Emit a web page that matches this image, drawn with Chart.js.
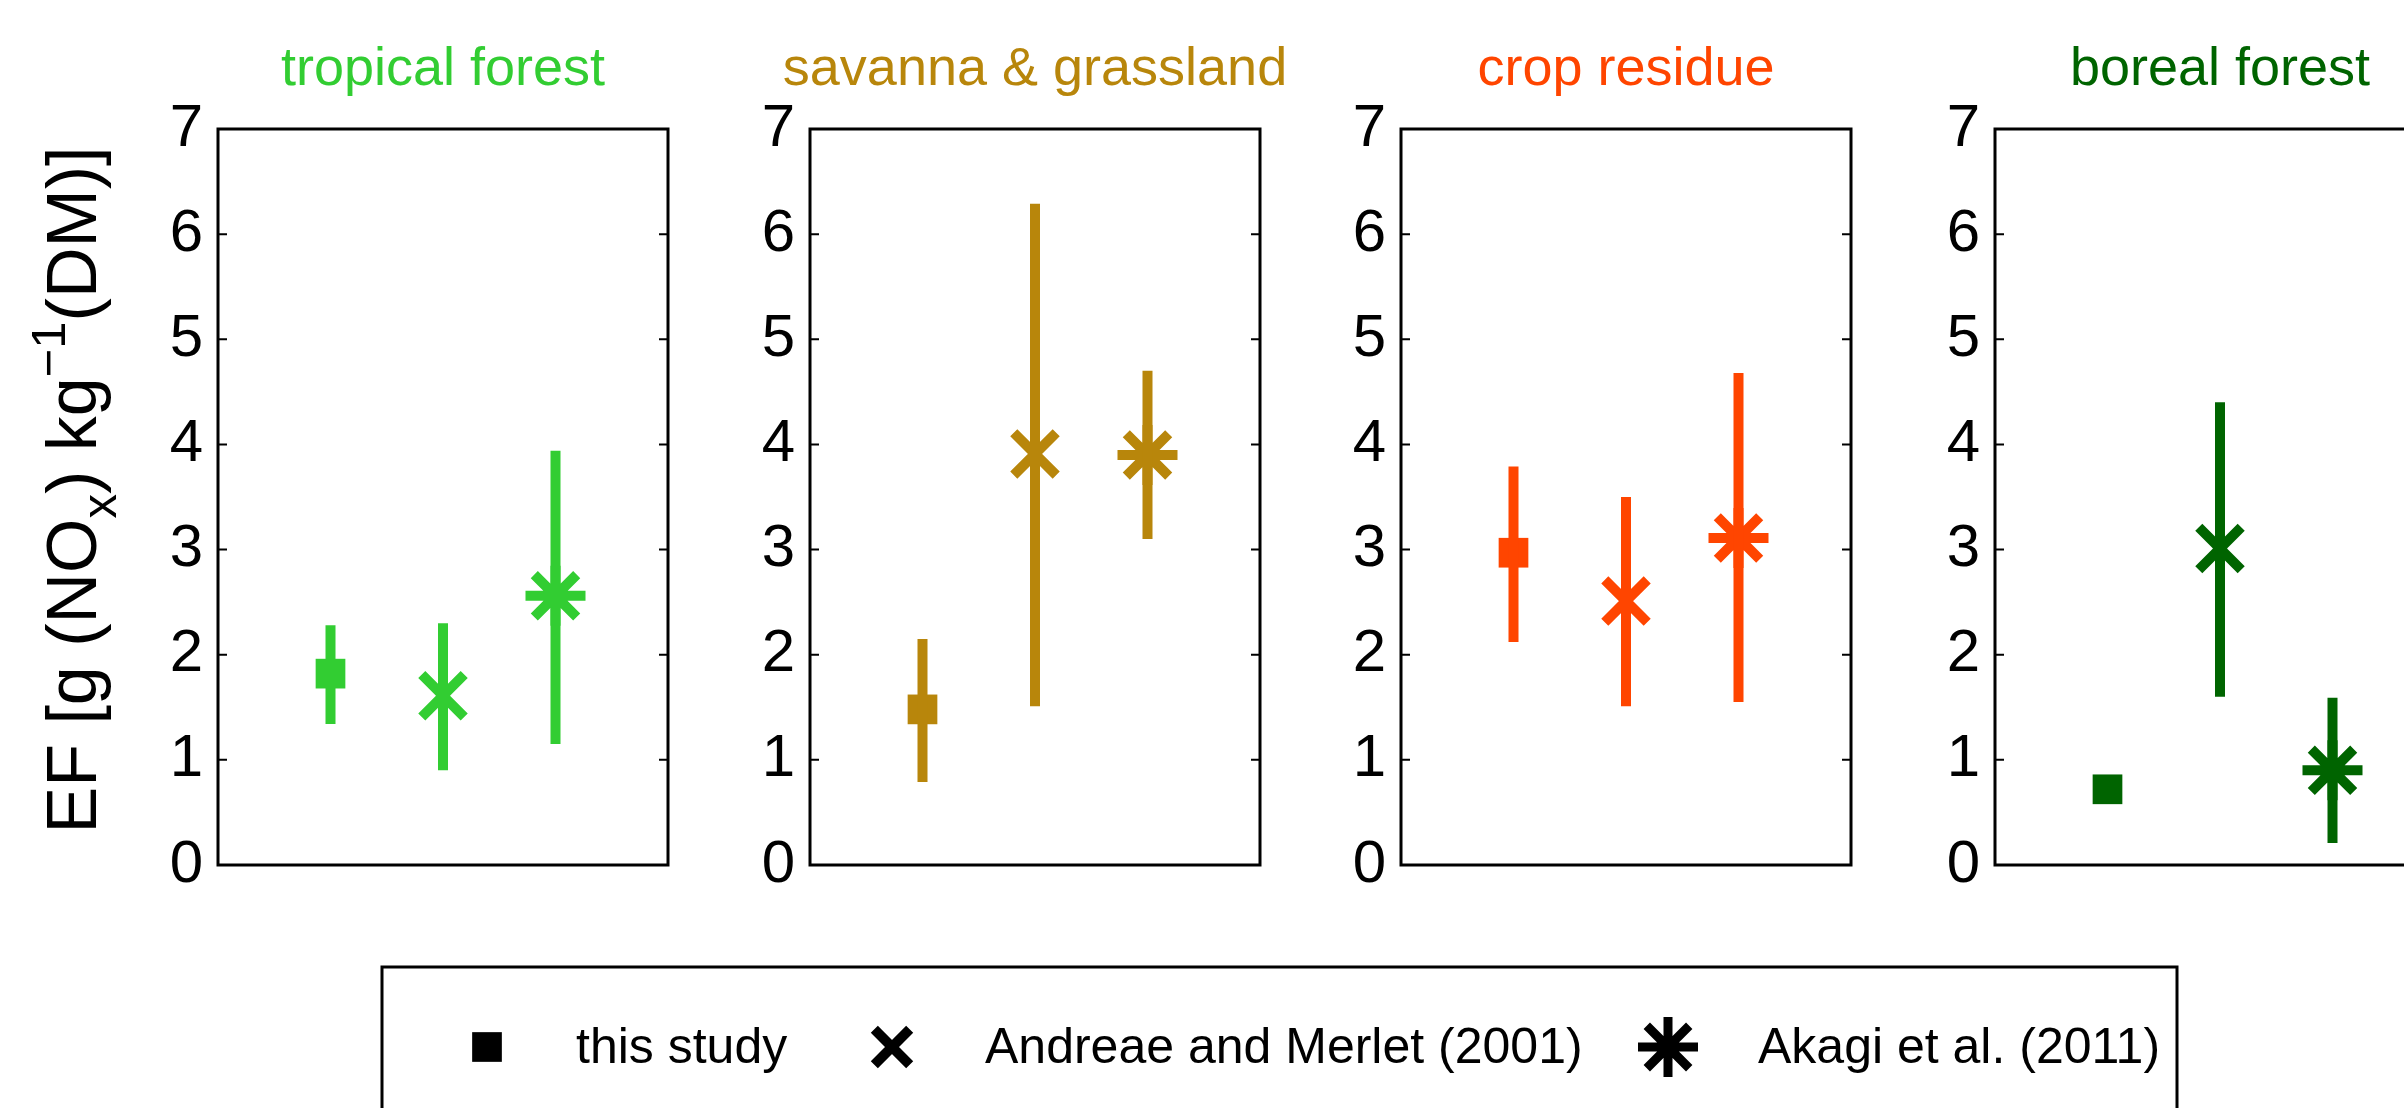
<!DOCTYPE html>
<html>
<head>
<meta charset="utf-8">
<script src="https://cdn.jsdelivr.net/npm/chart.js@4.4.1/dist/chart.umd.min.js"></script>
<style>
  html, body { margin: 0; padding: 0; background: #ffffff; width: 2404px; height: 1108px; overflow: hidden; }
  body { position: relative; }
  canvas { position: absolute; }
</style>
</head>
<body>
<canvas id="p0"></canvas>
<canvas id="p1"></canvas>
<canvas id="p2"></canvas>
<canvas id="p3"></canvas>
<canvas id="leg"></canvas>
<script>
// ---------------- data ----------------
const categories = ['tropical forest', 'savanna & grassland', 'crop residue', 'boreal forest'];
const categoryColors = ['#32CD32', '#B8860B', '#FF4500', '#006400'];
const sources = ['this study', 'Andreae and Merlet (2001)', 'Akagi et al. (2011)'];

const thisStudy     = [1.82, 1.48, 2.97, 0.72];
const thisStudyLow  = [1.34, 0.79, 2.12, null];
const thisStudyHigh = [2.28, 2.15, 3.79, null];

const andreae     = [1.61, 3.91, 2.51, 3.01];
const andreaeLow  = [0.90, 1.51, 1.51, 1.60];
const andreaeHigh = [2.30, 6.29, 3.50, 4.40];

const akagi     = [2.56, 3.90, 3.11, 0.90];
const akagiLow  = [1.15, 3.10, 1.55, 0.21];
const akagiHigh = [3.94, 4.70, 4.68, 1.59];

const sourceX = [1, 2, 3];
const yTicks = [0, 1, 2, 3, 4, 5, 6, 7];

// ---------------- layout ----------------
const FONT = "'Liberation Sans', Arial, Helvetica, sans-serif";
const BOX_LEFT = [218, 810, 1401, 1995];
const BOX_W = 450;
const BOX_TOP = 129;
const BOX_BOTTOM = 865;
const PAD_BOTTOM = 64;
const PAD_RIGHT = 70;

function errBar(x, lo, hi) {
  if (lo === null || hi === null) return [];
  return [{ x: x, y: lo }, { x: x, y: hi }];
}

const framePlugin = {
  id: 'frame',
  afterDraw(chart, args, opts) {
    const ctx = chart.ctx;
    const a = chart.chartArea;
    const ys = chart.scales.y;
    ctx.save();
    ctx.strokeStyle = '#000';
    ctx.lineWidth = 2;
    ctx.beginPath();
    yTicks.forEach(v => {
      const py = ys.getPixelForValue(v);
      ctx.moveTo(a.left, py); ctx.lineTo(a.left + 9, py);
      ctx.moveTo(a.right, py); ctx.lineTo(a.right - 9, py);
    });
    ctx.stroke();
    ctx.lineWidth = 3;
    ctx.strokeRect(a.left, a.top, a.right - a.left, a.bottom - a.top);
    ctx.fillStyle = opts.color;
    ctx.font = '54px ' + FONT;
    ctx.textAlign = 'center';
    ctx.textBaseline = 'alphabetic';
    ctx.fillText(opts.title, (a.left + a.right) / 2, 85);
    ctx.restore();
  }
};

const yLabelPlugin = {
  id: 'ylabel',
  afterDraw(chart) {
    const ctx = chart.ctx;
    const size = 70;
    const small = Math.round(size * 0.7);
    const parts = [
      { t: 'EF [g (NO', s: size, dy: 0 },
      { t: 'x', s: small, dy: size * 0.28 },
      { t: ') kg', s: size, dy: 0 },
      { t: '\u22121', s: small, dy: -size * 0.45 },
      { t: '(DM)]', s: size, dy: 0 }
    ];
    ctx.save();
    let total = 0;
    parts.forEach(p => { ctx.font = p.s + 'px ' + FONT; p.w = ctx.measureText(p.t).width; total += p.w; });
    const cx = 96, cy = 490;
    ctx.translate(cx, cy);
    ctx.rotate(-Math.PI / 2);
    ctx.fillStyle = '#000';
    ctx.textAlign = 'left';
    ctx.textBaseline = 'alphabetic';
    let x = -total / 2;
    parts.forEach(p => {
      ctx.font = p.s + 'px ' + FONT;
      ctx.fillText(p.t, x, p.dy);
      x += p.w;
    });
    ctx.restore();
  }
};

for (let i = 0; i < categories.length; i++) {
  const axisW = i === 0 ? BOX_LEFT[0] : 100;
  const cv = document.getElementById('p' + i);
  const w = axisW + BOX_W + PAD_RIGHT;
  const h = BOX_BOTTOM + PAD_BOTTOM;
  cv.width = w; cv.height = h;
  cv.style.width = w + 'px'; cv.style.height = h + 'px';
  cv.style.left = (BOX_LEFT[i] - axisW) + 'px';
  cv.style.top = '0px';
  const col = categoryColors[i];
  const lineDs = (lo, hi, xx) => ({
    type: 'line', data: errBar(xx, lo, hi), borderColor: col, borderWidth: 10,
    borderCapStyle: 'butt', pointRadius: 0, pointHoverRadius: 0, fill: false, tension: 0
  });
  const plugins = [framePlugin];
  if (i === 0) plugins.push(yLabelPlugin);
  new Chart(cv, {
    type: 'scatter',
    data: {
      datasets: [
        lineDs(thisStudyLow[i], thisStudyHigh[i], sourceX[0]),
        lineDs(andreaeLow[i], andreaeHigh[i], sourceX[1]),
        lineDs(akagiLow[i], akagiHigh[i], sourceX[2]),
        { label: sources[0], data: [{ x: sourceX[0], y: thisStudy[i] }], pointStyle: 'rect', pointRadius: 21,
          pointBackgroundColor: col, pointBorderColor: col, pointBorderWidth: 0 },
        { label: sources[1], data: [{ x: sourceX[1], y: andreae[i] }], pointStyle: 'crossRot', pointRadius: 30,
          pointBackgroundColor: col, pointBorderColor: col, pointBorderWidth: 10 },
        { label: sources[2], data: [{ x: sourceX[2], y: akagi[i] }], pointStyle: 'star', pointRadius: 30,
          pointBackgroundColor: col, pointBorderColor: col, pointBorderWidth: 10 }
      ]
    },
    options: {
      responsive: false,
      animation: false,
      events: [],
      layout: { autoPadding: false, padding: { top: BOX_TOP, bottom: PAD_BOTTOM, left: 0, right: PAD_RIGHT } },
      plugins: {
        legend: { display: false },
        tooltip: { enabled: false },
        frame: { title: categories[i], color: col }
      },
      scales: {
        x: { type: 'linear', min: 0, max: 4, display: false },
        y: {
          type: 'linear', min: 0, max: 7,
          afterFit(s) { s.width = axisW; },
          grid: { display: false, drawTicks: false },
          border: { display: false },
          ticks: { stepSize: 1, padding: 15, color: '#000', font: { family: FONT, size: 60 },
                   callback: v => String(v) }
        }
      }
    },
    plugins: plugins
  });
}

// ---------------- legend ----------------
const LEG_TOP = 900;
const legendMarkerX = [487, 892, 1668];
const legendTextX = [576, 985, 1758];
const legendStyles = [
  { pointStyle: 'rect', radius: 21, borderWidth: 0 },
  { pointStyle: 'crossRot', radius: 25, borderWidth: 10 },
  { pointStyle: 'star', radius: 30, borderWidth: 9 }
];
const legCanvas = document.getElementById('leg');
legCanvas.width = 2404; legCanvas.height = 1108 - LEG_TOP;
legCanvas.style.width = '2404px'; legCanvas.style.height = (1108 - LEG_TOP) + 'px';
legCanvas.style.left = '0px'; legCanvas.style.top = LEG_TOP + 'px';

const legendPlugin = {
  id: 'legendBox',
  afterDraw(chart) {
    const ctx = chart.ctx;
    ctx.save();
    ctx.strokeStyle = '#000';
    ctx.lineWidth = 3;
    ctx.strokeRect(382, 967 - LEG_TOP, 2177 - 382, 400);
    const cy = 1047 - LEG_TOP;
    chart.data.datasets.forEach((ds, k) => {
      const st = legendStyles[k];
      const o = { pointStyle: st.pointStyle, radius: st.radius, borderWidth: st.borderWidth, rotation: 0 };
      ctx.fillStyle = '#000';
      ctx.strokeStyle = '#000';
      ctx.lineWidth = st.borderWidth;
      Chart.helpers.drawPoint(ctx, o, legendMarkerX[k], cy);
      ctx.fillStyle = '#000';
      ctx.font = '50px ' + FONT;
      ctx.textAlign = 'left';
      ctx.textBaseline = 'middle';
      ctx.fillText(ds.label, legendTextX[k], cy + 2);
    });
    ctx.restore();
  }
};

new Chart(legCanvas, {
  type: 'scatter',
  data: { datasets: sources.map(s => ({ label: s, data: [] })) },
  options: {
    responsive: false, animation: false, events: [],
    layout: { autoPadding: false },
    plugins: { legend: { display: false }, tooltip: { enabled: false } },
    scales: { x: { display: false }, y: { display: false } }
  },
  plugins: [legendPlugin]
});
</script>
</body>
</html>
